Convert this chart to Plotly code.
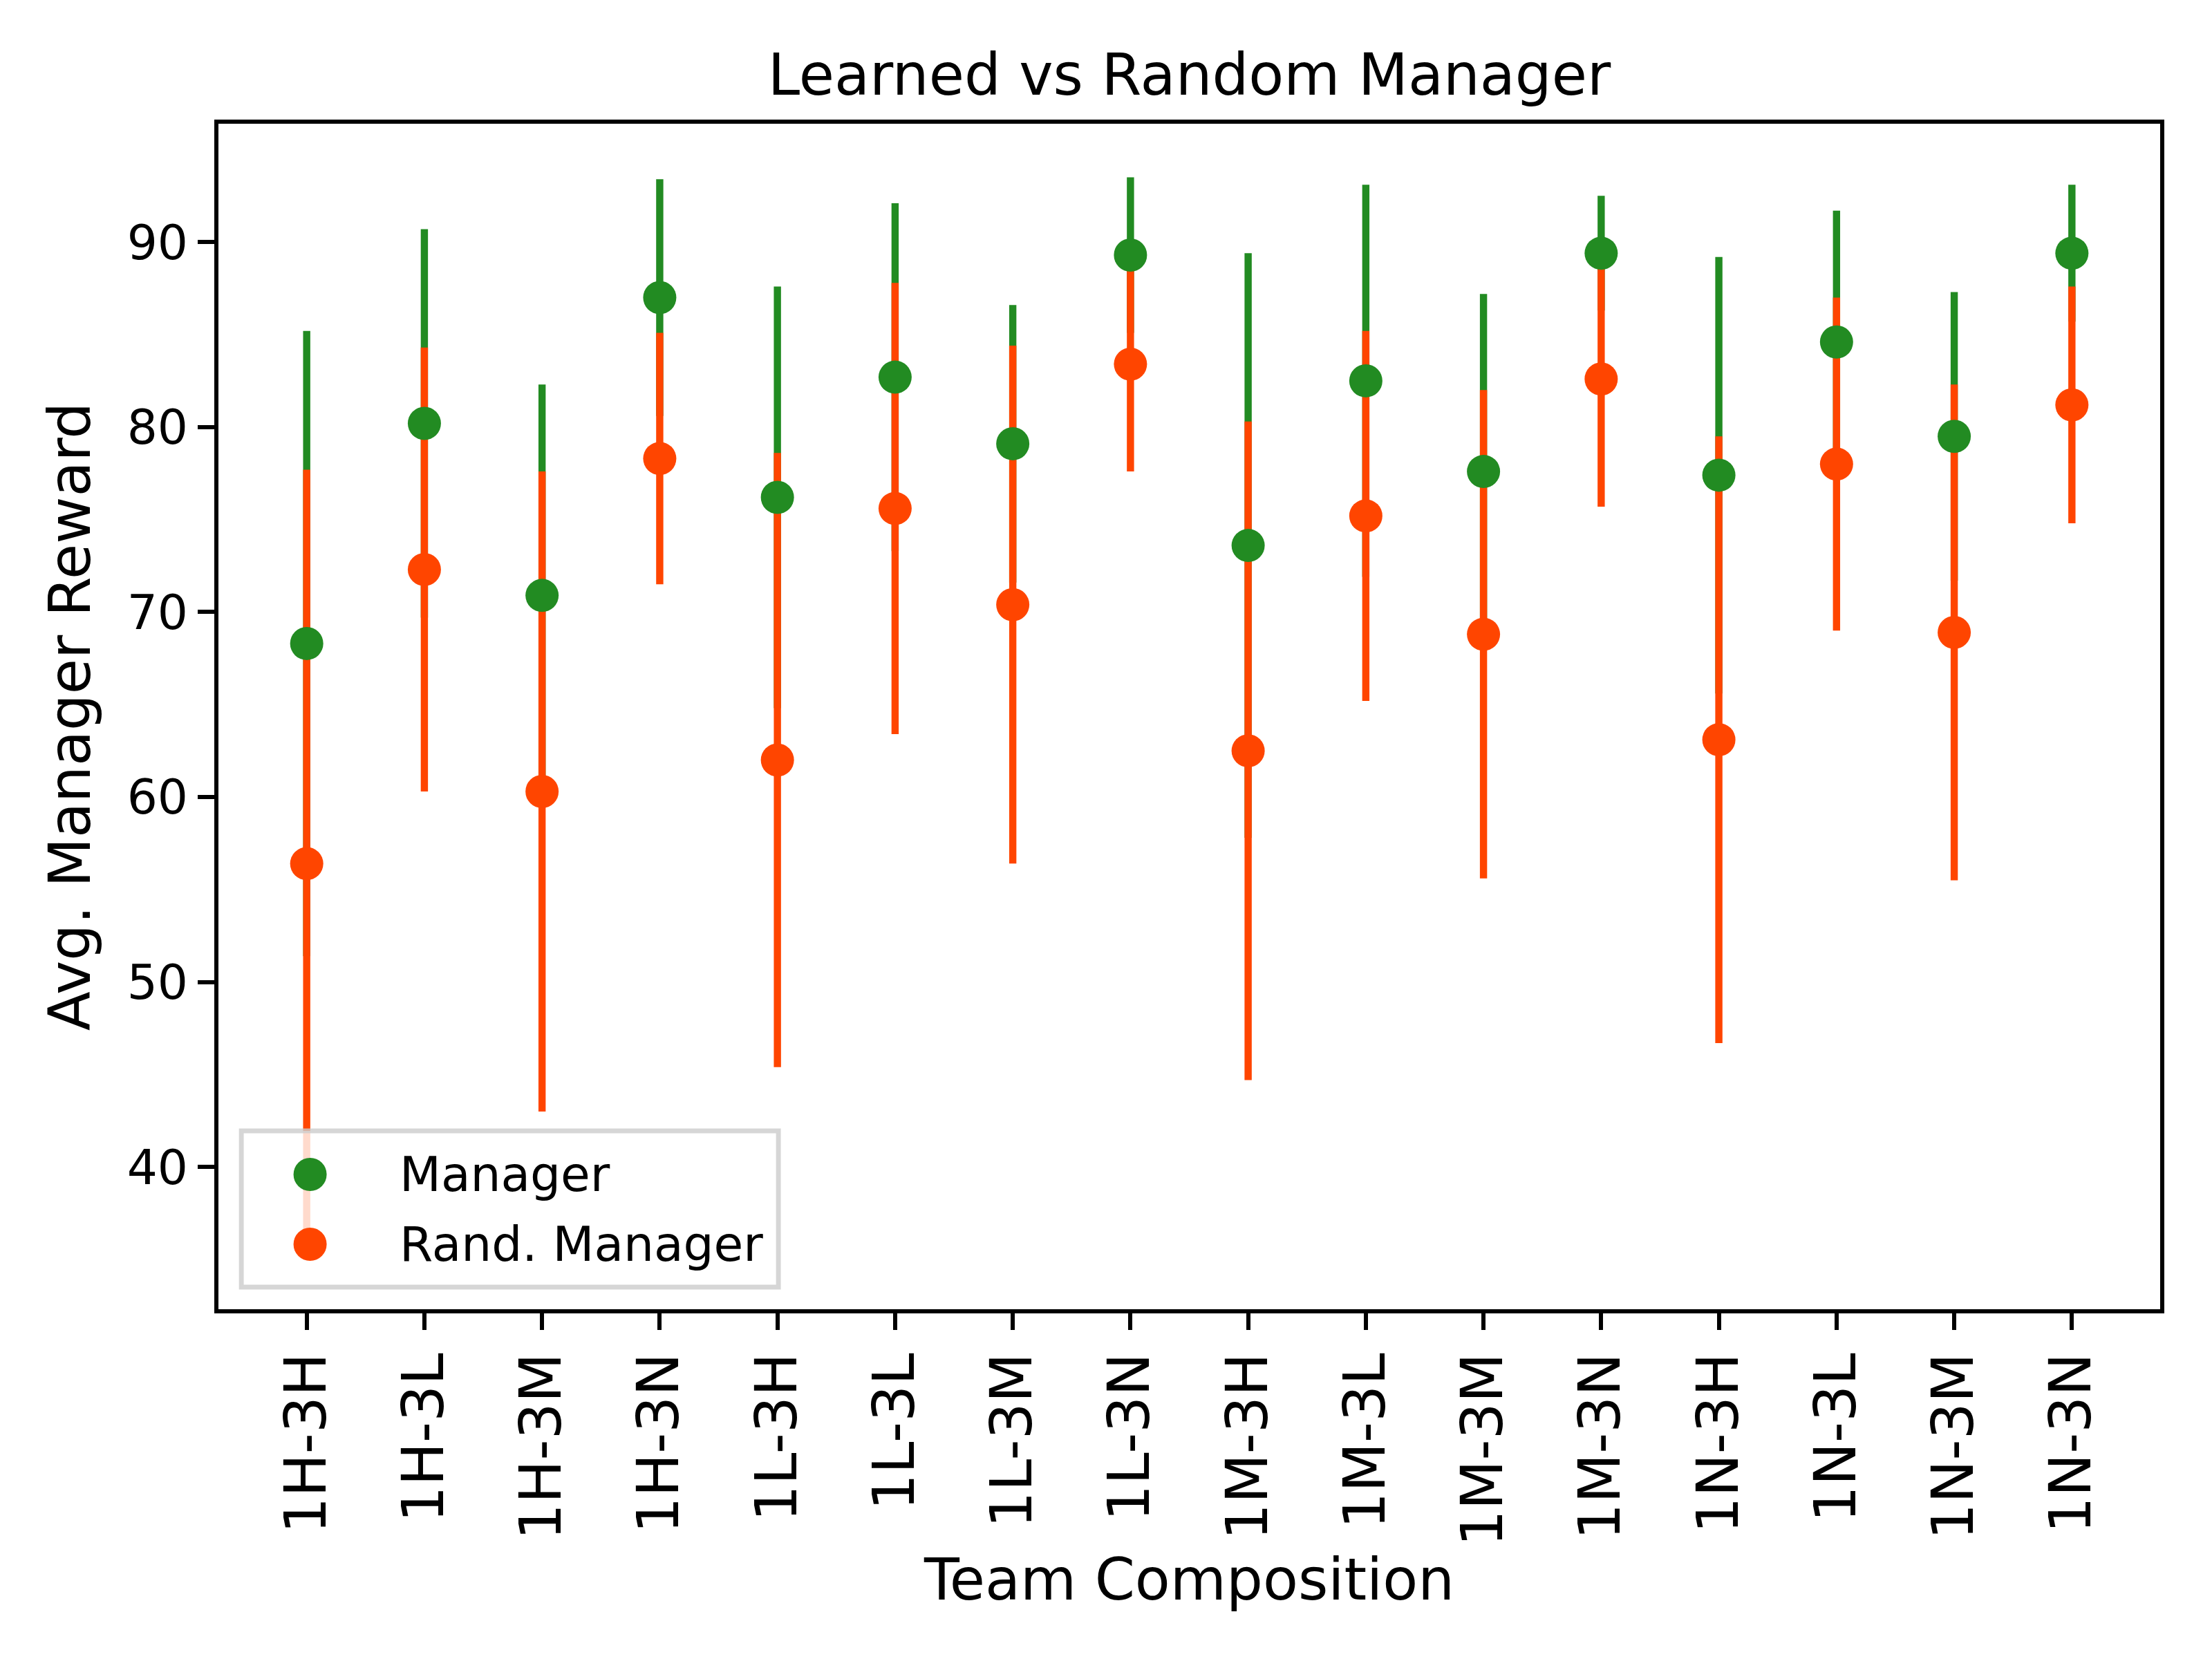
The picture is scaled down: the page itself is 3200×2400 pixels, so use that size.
import plotly.graph_objs as go

# team compositions on the x axis
teams = ['1H-3H', '1H-3L', '1H-3M', '1H-3N', '1L-3H', '1L-3L', '1L-3M', '1L-3N',
         '1M-3H', '1M-3L', '1M-3M', '1M-3N', '1N-3H', '1N-3L', '1N-3M', '1N-3N']

# learned manager: mean reward and std
manager_mean = [68.3, 80.2, 70.9, 87.0, 76.2, 82.7, 79.1, 89.3,
                73.6, 82.5, 77.6, 89.4, 77.4, 84.6, 79.5, 89.4]
manager_std = [16.9, 10.5, 11.4, 6.4, 11.4, 9.4, 7.5, 4.2,
               15.8, 10.6, 9.6, 3.1, 11.8, 7.1, 7.8, 3.7]

# random manager: mean reward and std
rand_mean = [56.4, 72.3, 60.3, 78.3, 62.0, 75.6, 70.4, 83.4,
             62.5, 75.2, 68.8, 82.6, 63.1, 78.0, 68.9, 81.2]
rand_std = [21.3, 12.0, 17.3, 6.8, 16.6, 12.2, 14.0, 5.8,
            17.8, 10.0, 13.2, 6.9, 16.4, 9.0, 13.4, 6.4]

legend_names = ['Manager', 'Rand. Manager']
y_ticks = [40, 50, 60, 70, 80, 90]

green = 'forestgreen'
red = 'orangered'
font = 'DejaVu Sans'
pt = 500 / 72.0  # figure was saved at 500 dpi


def err_trace(mean, std, color):
    # error bars only, markers hidden
    return go.Scatter(
        x=teams, y=mean, mode='markers',
        marker=dict(size=1, opacity=0, color=color),
        error_y=dict(type='data', array=std, visible=True, color=color,
                     thickness=1.5 * pt, width=0),
        showlegend=False, hoverinfo='skip'
    )


def dot_trace(mean, color, name):
    return go.Scatter(
        x=teams, y=mean, mode='markers', name=name,
        marker=dict(size=48, color=color, line=dict(width=0)),
        showlegend=False
    )


data = [
    err_trace(manager_mean, manager_std, green),
    err_trace(rand_mean, rand_std, red),
    dot_trace(manager_mean, green, legend_names[0]),
    dot_trace(rand_mean, red, legend_names[1]),
]

axis_common = dict(
    showline=True, linecolor='black', linewidth=0.8 * pt, mirror=True,
    ticks='outside', ticklen=3.5 * pt, tickwidth=0.8 * pt, tickcolor='black',
    showgrid=False, zeroline=False,
)

# hand-made legend box (matplotlib style, lower left)
leg_y = [0.1137, 0.0548]
shapes = [dict(type='rect', xref='x domain', yref='y domain',
               x0=0.0118, x1=0.2884, y0=0.0187, y1=0.1504,
               fillcolor='rgba(255,255,255,0.8)',
               line=dict(color='rgba(204,204,204,0.8)', width=1.0 * pt),
               layer='above')]
annotations = []
for name, color, yy in zip(legend_names, [green, red], leg_y):
    shapes.append(dict(type='circle', xref='x domain', yref='y domain',
                       xsizemode='pixel', ysizemode='pixel',
                       xanchor=0.0472, yanchor=yy,
                       x0=-24, x1=24, y0=-24, y1=24,
                       fillcolor=color, line=dict(width=0), layer='above'))
    annotations.append(dict(xref='x domain', yref='y domain', x=0.0926, y=yy,
                            xanchor='left', yanchor='middle', showarrow=False,
                            text=name, font=dict(family=font, size=10 * pt, color='black')))

layout = go.Layout(
    width=3200, height=2400,
    margin=dict(l=308, r=83, t=171, b=514),
    plot_bgcolor='white', paper_bgcolor='white',
    font=dict(family=font, color='black'),
    title=dict(text='Learned vs Random Manager', x=0.5, xref='paper', xanchor='center',
               y=1, yref='paper', yanchor='bottom', pad=dict(b=42),
               font=dict(size=12 * pt)),
    xaxis=dict(axis_common, type='category', range=[-0.75, 15.75],
               tickangle=-90, tickfont=dict(size=12 * pt),
               title=dict(text='Team Composition', font=dict(size=12 * pt), standoff=20)),
    yaxis=dict(axis_common, range=[32.31, 96.4], tickvals=y_ticks,
               tickfont=dict(size=10 * pt),
               title=dict(text='Avg. Manager Reward', font=dict(size=12 * pt), standoff=28)),
    shapes=shapes,
    annotations=annotations,
    showlegend=False,
)

fig = go.Figure(data=data, layout=layout)
fig.write_html('out.html')
